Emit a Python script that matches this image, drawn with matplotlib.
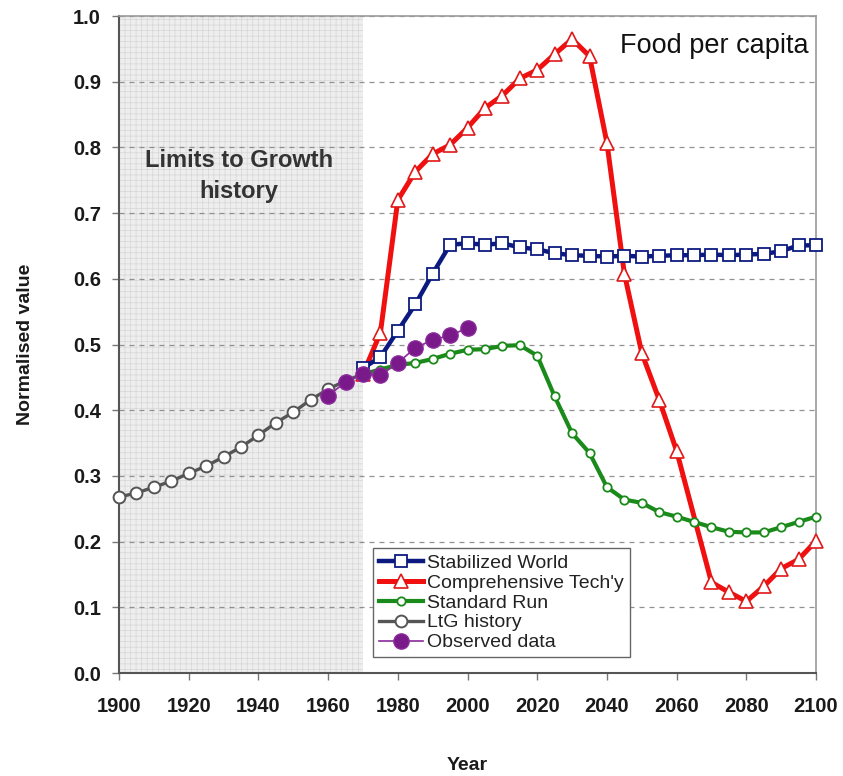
import matplotlib
matplotlib.use("Agg")
import matplotlib.pyplot as plt

plt.rcParams['font.family'] = ['Liberation Sans', 'DejaVu Sans']
plt.rcParams['hatch.linewidth'] = 0.5

# LtG history (1900-1970)
ltg_years = [1900, 1905, 1910, 1915, 1920, 1925, 1930, 1935, 1940, 1945, 1950, 1955, 1960, 1965, 1970]
ltg_vals = [0.268, 0.274, 0.283, 0.292, 0.304, 0.315, 0.329, 0.344, 0.362, 0.381, 0.397, 0.416, 0.432, 0.445, 0.455]

# Observed data
obs_years = [1960, 1965, 1970, 1975, 1980, 1985, 1990, 1995, 2000]
obs_vals = [0.422, 0.443, 0.455, 0.453, 0.472, 0.495, 0.507, 0.514, 0.525]

# Stabilized World
stab_years = [1970, 1975, 1980, 1985, 1990, 1995, 2000, 2005, 2010, 2015, 2020, 2025, 2030, 2035,
              2040, 2045, 2050, 2055, 2060, 2065, 2070, 2075, 2080, 2085, 2090, 2095, 2100]
stab_vals = [0.464, 0.481, 0.521, 0.561, 0.608, 0.652, 0.654, 0.652, 0.654, 0.648, 0.645, 0.639, 0.636, 0.635,
             0.634, 0.635, 0.634, 0.635, 0.636, 0.636, 0.637, 0.636, 0.637, 0.638, 0.642, 0.651, 0.651]

# Comprehensive Technology
tech_years = [1970, 1975, 1980, 1985, 1990, 1995, 2000, 2005, 2010, 2015, 2020, 2025, 2030, 2035,
              2040, 2045, 2050, 2055, 2060, 2070, 2075, 2080, 2085, 2090, 2095, 2100]
tech_vals = [0.455, 0.518, 0.720, 0.763, 0.790, 0.804, 0.830, 0.860, 0.879, 0.905, 0.918, 0.942, 0.965, 0.939,
             0.807, 0.608, 0.487, 0.416, 0.338, 0.138, 0.123, 0.109, 0.132, 0.159, 0.173, 0.201]

# Standard Run
std_years = [1970, 1975, 1980, 1985, 1990, 1995, 2000, 2005, 2010, 2015, 2020, 2025, 2030, 2035,
             2040, 2045, 2050, 2055, 2060, 2065, 2070, 2075, 2080, 2085, 2090, 2095, 2100]
std_vals = [0.455, 0.462, 0.469, 0.472, 0.478, 0.486, 0.492, 0.493, 0.498, 0.499, 0.483, 0.421, 0.365, 0.335,
            0.283, 0.264, 0.259, 0.245, 0.238, 0.230, 0.222, 0.215, 0.214, 0.214, 0.222, 0.230, 0.238]

fig = plt.figure(figsize=(8.43, 7.76), dpi=100)
ax = fig.add_axes([0.1412, 0.1327, 0.8268, 0.8466])

ax.set_xlim(1900, 2100)
ax.set_ylim(0, 1.0)

# shaded history region
ax.axvspan(1900, 1970, facecolor='#eeeeee', edgecolor='#d6d6d6', hatch='+++', linewidth=0, zorder=0)

ax.set_yticks([i / 10 for i in range(11)])
ax.set_xticks(range(1900, 2101, 20))
ax.yaxis.grid(True, linestyle=(0, (4, 4)), color='#909090', linewidth=0.9)
ax.set_axisbelow(True)

red, = ax.plot(tech_years, tech_vals, color='#f01010', lw=3.6, marker='^', ms=10,
               mfc='white', mec='#e01818', mew=1.2, zorder=3, clip_on=False, label="Comprehensive Tech'y")
green, = ax.plot(std_years, std_vals, color='#1a8a1a', lw=3.0, marker='o', ms=6,
                 mfc='white', mec='#1a8a1a', mew=1.3, zorder=4, clip_on=False, label='Standard Run')
blue, = ax.plot(stab_years, stab_vals, color='#0c1a80', lw=3.2, marker='s', ms=8.5,
                mfc='white', mec='#0c1a80', mew=1.3, zorder=5, clip_on=False, label='Stabilized World')
ltg, = ax.plot(ltg_years, ltg_vals, color='#555555', lw=2.4, marker='o', ms=8.5,
               mfc='white', mec='#555555', mew=1.4, zorder=6, clip_on=False, label='LtG history')
obs, = ax.plot(obs_years, obs_vals, color='#8a2a9a', lw=1.2, marker='o', ms=11,
               mfc='#7a1a8a', mec='#8a2a9a', mew=1.0, zorder=7, clip_on=False, label='Observed data')

for s in ['top', 'right']:
    ax.spines[s].set_color('#9a9a9a')
    ax.spines[s].set_linewidth(1.2)
for s in ['left', 'bottom']:
    ax.spines[s].set_color('#555555')
    ax.spines[s].set_linewidth(1.5)

ax.tick_params(axis='both', direction='out', length=5, width=1, color='#777777',
               labelsize=14.5, labelcolor='#1a1a1a')
ax.tick_params(axis='x', pad=12)
ax.tick_params(axis='y', pad=8)
ax.set_xticklabels([str(y) for y in range(1900, 2101, 20)], fontweight='bold')
ax.set_yticklabels(['%.1f' % (i / 10) for i in range(11)], fontweight='bold')

ax.set_xlabel('Year', fontsize=14, fontweight='bold', labelpad=30, color='#1a1a1a')
ax.set_ylabel('Normalised value', fontsize=14, fontweight='bold', labelpad=28, color='#1a1a1a')

ax.text(1934.5, 0.757, 'Limits to Growth\nhistory', ha='center', va='center', fontsize=17,
        fontweight='bold', color='#333333', linespacing=1.45)
ax.text(2098, 0.955, 'Food per capita', ha='right', va='center', fontsize=19.5, color='#111111')

leg = ax.legend(handles=[blue, red, green, ltg, obs], loc='lower left',
                bbox_to_anchor=(0.364, 0.024), fontsize=14, frameon=True, fancybox=False,
                edgecolor='#666666', framealpha=1, handlelength=2.3, handletextpad=0.2,
                labelspacing=0.12, borderpad=0.3, borderaxespad=0)
leg.get_frame().set_linewidth(1.0)
for t in leg.get_texts():
    t.set_color('#222222')

fig.savefig('out.png', dpi=100)
